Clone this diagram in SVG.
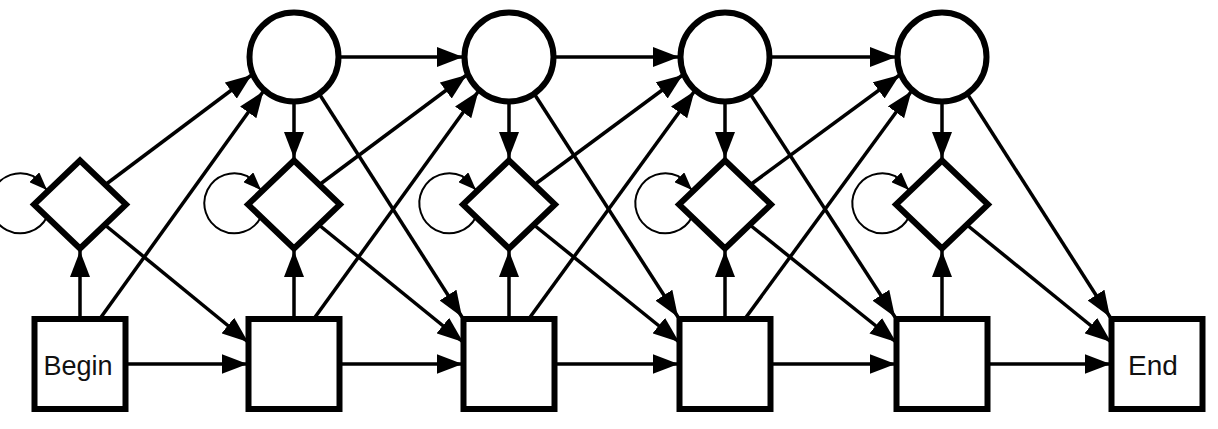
<svg xmlns="http://www.w3.org/2000/svg" width="1218" height="429" viewBox="0 0 1218 429">
<style>
.c{fill:none;stroke:#000;stroke-width:3.5;marker-end:url(#ah)}
.l{fill:none;stroke:#000;stroke-width:2;marker-end:url(#ahs)}
.n{fill:#fff;stroke:#000;stroke-width:6}
.d{fill:#fff;stroke:#000;stroke-width:6;stroke-linejoin:miter}
.t{font-family:"Liberation Sans",Arial,sans-serif;font-size:27px;fill:#111;text-anchor:middle}
</style>
<defs>
<marker id="ah" markerUnits="userSpaceOnUse" markerWidth="26" markerHeight="20" refX="26" refY="10" orient="auto"><path d="M0,0 L26,10 L0,20 z" fill="#000"/></marker>
<marker id="ahs" markerUnits="userSpaceOnUse" markerWidth="18" markerHeight="14" refX="18" refY="7" orient="auto"><path d="M0,0 L18,7 L0,14 z" fill="#000"/></marker>
</defs>
<g id="connectors">
<!-- box to box -->
<path class="c" d="M125,364 L247.5,364"/>
<path class="c" d="M339,364 L462.5,364"/>
<path class="c" d="M554,364 L678.5,364"/>
<path class="c" d="M770,364 L895.5,364"/>
<path class="c" d="M987,364 L1110.5,364"/>
<!-- box to diamond -->
<path class="c" d="M80,319 L80,251"/>
<path class="c" d="M294,319 L294,251"/>
<path class="c" d="M509,319 L509,251"/>
<path class="c" d="M725,319 L725,251"/>
<path class="c" d="M942,319 L942,251"/>
<!-- box to circle -->
<path class="c" d="M99,320 L263.4,91.3"/>
<path class="c" d="M313,320 L478.4,91.3"/>
<path class="c" d="M528,320 L694.4,91.3"/>
<path class="c" d="M744,320 L911.4,91.3"/>
<!-- diamond to circle -->
<path class="c" d="M105,185 L251.6,75"/>
<path class="c" d="M319,185 L466.6,75"/>
<path class="c" d="M534,185 L682.6,75"/>
<path class="c" d="M750,185 L899.6,75"/>
<!-- diamond to box -->
<path class="c" d="M105,225 L248,342"/>
<path class="c" d="M319,225 L463,342"/>
<path class="c" d="M534,225 L679,342"/>
<path class="c" d="M750,225 L896,342"/>
<path class="c" d="M967,225 L1111,342"/>
<!-- circle to circle -->
<path class="c" d="M338,57 L463,57"/>
<path class="c" d="M553,57 L679,57"/>
<path class="c" d="M769,57 L896,57"/>
<!-- circle to diamond -->
<path class="c" d="M294,100 L294,158"/>
<path class="c" d="M509,100 L509,158"/>
<path class="c" d="M725,100 L725,158"/>
<path class="c" d="M942,100 L942,158"/>
<!-- circle to box -->
<path class="c" d="M320,95 L462,317"/>
<path class="c" d="M535,95 L678,317"/>
<path class="c" d="M751,95 L895,317"/>
<path class="c" d="M968,95 L1110,317"/>
<!-- self loops -->
<path class="l" d="M47,217 A30 30 0 1 1 33.3,176.2 L47,190"/>
<path class="l" d="M261,217 A30 30 0 1 1 247.3,176.2 L261,190"/>
<path class="l" d="M476,217 A30 30 0 1 1 462.3,176.2 L476,190"/>
<path class="l" d="M692,217 A30 30 0 1 1 678.3,176.2 L692,190"/>
<path class="l" d="M909,217 A30 30 0 1 1 895.3,176.2 L909,190"/>
</g>
<g id="circle1"><circle class="n" cx="294" cy="57" r="44.5"/></g>
<g id="circle2"><circle class="n" cx="509" cy="57" r="44.5"/></g>
<g id="circle3"><circle class="n" cx="725" cy="57" r="44.5"/></g>
<g id="circle4"><circle class="n" cx="942" cy="57" r="44.5"/></g>
<g id="diamond0"><path class="d" d="M80,160.5 L126,204.5 L80,248.5 L34,204.5 Z"/></g>
<g id="diamond1"><path class="d" d="M294,160.5 L340,204.5 L294,248.5 L248,204.5 Z"/></g>
<g id="diamond2"><path class="d" d="M509,160.5 L555,204.5 L509,248.5 L463,204.5 Z"/></g>
<g id="diamond3"><path class="d" d="M725,160.5 L771,204.5 L725,248.5 L679,204.5 Z"/></g>
<g id="diamond4"><path class="d" d="M942,160.5 L988,204.5 L942,248.5 L896,204.5 Z"/></g>
<g id="begin"><rect class="n" x="34.5" y="319" width="91" height="90"/><text class="t" x="78" y="375">Begin</text></g>
<g id="box1"><rect class="n" x="248.5" y="319" width="91" height="90"/></g>
<g id="box2"><rect class="n" x="463.5" y="319" width="91" height="90"/></g>
<g id="box3"><rect class="n" x="679.5" y="319" width="91" height="90"/></g>
<g id="box4"><rect class="n" x="896.5" y="319" width="91" height="90"/></g>
<g id="end"><rect class="n" x="1111.5" y="319" width="91" height="90"/><text class="t" x="1153" y="375" style="font-size:28px">End</text></g>
</svg>
